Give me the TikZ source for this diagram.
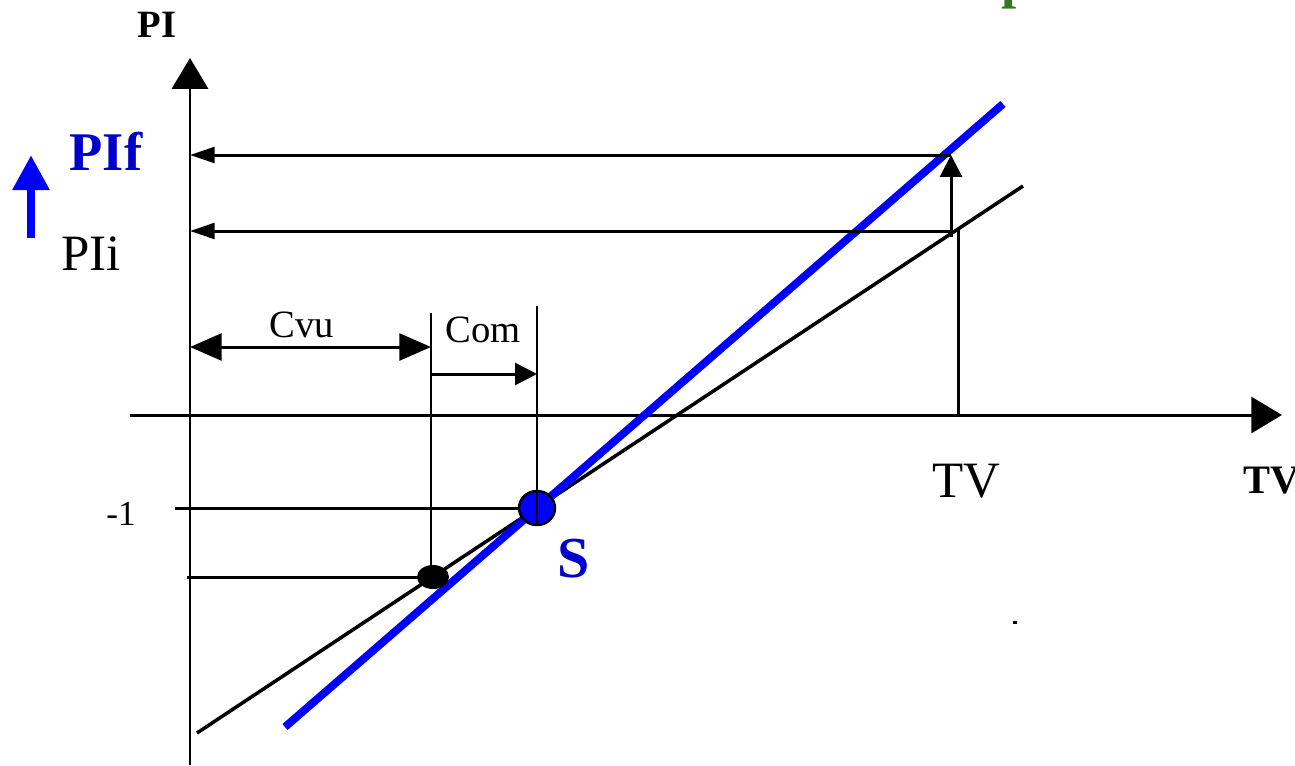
\documentclass[tikz,border=0pt]{standalone}
\usepackage{fontspec}
\setmainfont{Liberation Serif}
\usetikzlibrary{arrows.meta,positioning}
\definecolor{lineblue}{RGB}{0,0,255}
\definecolor{textblue}{RGB}{0,0,204}
\definecolor{cutgreen}{RGB}{56,118,29}
\newcommand{\fsz}[1]{\fontsize{#1pt}{#1pt}\selectfont}

\begin{document}
\begin{tikzpicture}[
  x=0.02cm, y=-0.02cm,
  every node/.style={inner sep=0pt, anchor=base, text=black},
  thinline/.style={line width=1.7pt, draw=black},
  axis/.style={thinline, -{Triangle[length=17.5pt,width=20.5pt]}},
  level/.style={thinline, -{Triangle[length=14pt,width=9pt]}},
  dimboth/.style={thinline, {Triangle[length=18pt,width=15.3pt]}-{Triangle[length=18pt,width=15.3pt]}},
  dimone/.style={thinline, -{Triangle[length=12.5pt,width=12.5pt]}},
  curve/.style={line width=2pt, draw=black},
  shifted/.style={line width=4.5pt, draw=lineblue}
]
\useasboundingbox (0,0) rectangle (1295,765);

% ---- axes ----
\coordinate (Ybot) at (190,765);
\coordinate (Ytop) at (190,58);
\coordinate (Xleft) at (130,415);
\coordinate (Xright) at (1282,415);
\draw[axis] (Ybot) -- (Ytop);
\draw[axis] (Xleft) -- (Xright);
\node (PI) at (157,37) {\fsz{22}\bfseries PI};
\node (TVaxis) [anchor=base west] at (1243,493) {\fsz{23}\bfseries TV};

% ---- points ----
\coordinate (S) at (537,508);
\coordinate (P) at (433,577);
\coordinate (Ai) at (951,231);
\coordinate (Af) at (951,155);
\coordinate (Tv) at (958,415);
\coordinate (Ti) at (958,228);

% ---- curves ----
\coordinate (Kstart) at (197,733);
\coordinate (Kend) at (1023,186);
\coordinate (Bstart) at (285,727);
\coordinate (Bend) at (1003,104);
\draw[curve] (Kstart) -- (Kend);
\draw[shifted] (Bstart) -- (Bend);

% ---- levels PIi and PIf ----
\draw[level] (Af) -- (Af -| Ytop);
\draw[level] (Ai) -- (Ai -| Ytop);
\draw[dimone] (951,237) -- (Af);
\draw[thinline] (Tv) -- (Ti);
\node (TV) at (966,497) {\fsz{29}TV};
\node (PIi) at (91,270) {\fsz{29}PIi};
\node (PIf) at (106,170) {\fsz{31}\bfseries\color{textblue}PIf};
\draw[line width=5pt, draw=lineblue, -{Triangle[length=20pt,width=20pt]}] (31,238) -- (31,155);

% ---- Cvu and Com ----
\coordinate (CvuL) at (190,347);
\coordinate (CvuR) at (431,347);
\coordinate (ComL) at (431,374);
\coordinate (ComR) at (537,374);
\coordinate (Pfoot) at (431,577);
\draw[thinline] (431,313) -- (Pfoot);
\draw[thinline] (537,306) -- (537,525);
\draw[dimboth] (CvuL) -- (CvuR);
\draw[dimone] (ComL) -- (ComR);
\node (Cvu) at (302,337) {\fsz{22}Cvu};
\node (Com) at (483,342) {\fsz{22}Com};

% ---- -1 and projections ----
\draw[thinline] (175,508) -- (S);
\draw[thinline] (187,577) -- (P);
\node (M1) at (121,525) {\fsz{20}-1};
\fill[black] (P) ellipse [x radius=16, y radius=12];
\filldraw[fill=lineblue, draw=black, line width=1.4pt] (S) ellipse [x radius=18, y radius=17];
\draw[thinline] (537,490) -- (537,525);
\node (Slabel) at (574,577) {\fsz{33}\bfseries\color{textblue}S};

% ---- cut-off marks ----
\node (Cut) [anchor=base west] at (1001,-3) {\fsz{31}\bfseries\color{cutgreen}p};
\fill[black] (1013,621) rectangle (1017,624);
\end{tikzpicture}
\end{document}
